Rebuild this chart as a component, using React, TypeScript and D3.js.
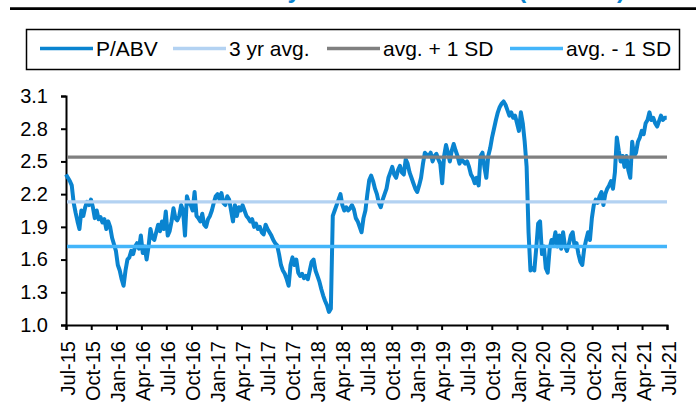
import { useEffect, useRef } from 'react';
import * as d3 from 'd3';

// weekly P/ABV readings, first value on 1 Jul 2015
const seriesStart = '2015-07-01';
const axisStart = '2015-07-01';
const axisEnd = '2021-07-01';

const pabv2015 = [
  2.38, 2.35, 2.32, 2.28, 2.12, 2.03, 1.95, 1.88, 2.05, 2.0, 2.08, 2.13, 2.1,
  2.15, 2.08, 1.98, 2.05, 1.97, 1.99, 1.94, 1.97, 1.88, 1.95, 1.9, 1.8, 1.74,
];
const pabv2016 = [
  1.68, 1.55, 1.5, 1.42, 1.36, 1.5, 1.6, 1.62, 1.68, 1.65, 1.72, 1.75, 1.7,
  1.82, 1.66, 1.72, 1.6, 1.72, 1.88, 1.8, 1.78, 1.85, 1.92, 1.86, 1.95, 1.88,
  2.04, 1.82, 1.86, 1.95, 2.07, 1.98, 1.96, 2.0, 2.1, 2.05, 1.82, 2.18, 2.12,
  2.1, 2.05, 2.22, 2.0, 1.98, 1.95, 2.02, 1.92, 1.9, 1.97, 2.0, 2.05, 2.12,
];
const pabv2017 = [
  2.18, 2.2, 2.15, 2.21, 2.12, 2.1, 2.18, 2.15, 2.05, 1.95, 2.1, 2.0, 2.08,
  2.05, 2.1, 2.05, 2.0, 1.98, 1.95, 1.97, 1.9, 1.93, 1.88, 1.9, 1.85, 1.83,
  1.92, 1.88, 1.85, 1.82, 1.78, 1.75, 1.73, 1.65, 1.55, 1.5, 1.47, 1.42, 1.36,
  1.55, 1.62, 1.55, 1.6, 1.48, 1.45, 1.47, 1.43, 1.45, 1.42, 1.5, 1.58, 1.6,
];
const pabv2018 = [
  1.5, 1.45, 1.4, 1.33, 1.27, 1.22, 1.18, 1.12, 1.15, 2.0, 2.05, 2.1, 2.15,
  2.2, 2.1, 2.05, 2.08, 2.05, 2.07, 2.1, 2.06, 1.98, 1.95, 1.9, 1.85, 1.98,
  2.05, 2.2, 2.33, 2.37, 2.32, 2.25, 2.2, 2.12, 2.08, 2.15, 2.2, 2.25, 2.35,
  2.4, 2.45, 2.38, 2.35, 2.42, 2.46, 2.4, 2.38, 2.52, 2.48, 2.4, 2.35, 2.3,
];
const pabv2019 = [
  2.25, 2.22, 2.28, 2.35, 2.48, 2.58, 2.56, 2.55, 2.58, 2.5, 2.55, 2.57, 2.52,
  2.48, 2.3, 2.55, 2.65, 2.58, 2.5, 2.6, 2.66, 2.6, 2.55, 2.48, 2.52, 2.5,
  2.48, 2.5, 2.45, 2.38, 2.35, 2.3, 2.35, 2.28, 2.55, 2.58, 2.45, 2.35, 2.55,
  2.62, 2.72, 2.8, 2.88, 2.95, 3.0, 3.03, 3.05, 3.02, 2.97, 2.92, 2.95, 2.9,
];
const pabv2020 = [
  2.92, 2.85, 2.78, 2.95, 2.85, 2.68, 2.45, 1.85, 1.5, 1.52, 1.5, 1.7, 1.93,
  1.95, 1.65, 1.72, 1.52, 1.48, 1.7, 1.78, 1.75, 1.85, 1.72, 1.82, 1.7, 1.85,
  1.72, 1.68, 1.74, 1.82, 1.85, 1.72, 1.75, 1.65, 1.58, 1.55, 1.7, 1.78, 1.85,
  1.78, 1.98, 2.1, 2.15, 2.12, 2.18, 2.22, 2.1, 2.2, 2.25, 2.28, 2.32, 2.25,
];
const pabv2021 = [
  2.4, 2.72, 2.6, 2.5, 2.55, 2.45, 2.55, 2.42, 2.35, 2.68, 2.55, 2.58, 2.68,
  2.72, 2.78, 2.75, 2.85, 2.88, 2.95, 2.88, 2.9, 2.85, 2.82, 2.87, 2.92, 2.88,
  2.9, 2.9,
];

const avg3yr = 2.13;
const avgPlus1Sd = 2.54;
const avgMinus1Sd = 1.72;

const yTicks = [1.0, 1.3, 1.6, 1.9, 2.2, 2.5, 2.8, 3.1];
const legendLabels = ['P/ABV', '3 yr avg.', 'avg. + 1 SD', 'avg. - 1 SD'];
const titleText = 'One year forward P/ABV (in times)';

const colors = {
  pabv: '#0a84d0',
  avg: '#b3d2f2',
  plus: '#808080',
  minus: '#43b5fa',
};

const FONT = 'Arial, "Liberation Sans", sans-serif';

export default function App() {
  const ref = useRef<SVGSVGElement | null>(null);

  useEffect(() => {
    if (!ref.current) return;
    const width = 696;
    const height = 411;
    const margin = { top: 96, right: 29, bottom: 86, left: 66 };

    const values = [...pabv2015, ...pabv2016, ...pabv2017, ...pabv2018, ...pabv2019, ...pabv2020, ...pabv2021];
    const t0 = new Date(seriesStart + 'T00:00:00');
    const data = values.map((v, i) => ({ date: d3.timeDay.offset(t0, 7 * i), value: v }));

    const svg = d3.select(ref.current);
    svg.selectAll('*').remove();
    svg.attr('width', width).attr('height', height);

    const x = d3
      .scaleTime()
      .domain([new Date(axisStart + 'T00:00:00'), new Date(axisEnd + 'T00:00:00')])
      .range([margin.left, width - margin.right]);
    const y = d3
      .scaleLinear()
      .domain([1.0, 3.1])
      .range([height - margin.bottom, margin.top]);

    // title (mostly cropped above the frame) and rule
    svg
      .append('text')
      .attr('x', 625)
      .attr('y', -2)
      .attr('text-anchor', 'end')
      .attr('font-family', FONT)
      .attr('font-weight', 'bold')
      .attr('font-size', 24)
      .attr('fill', colors.pabv)
      .text(titleText);
    svg
      .append('line')
      .attr('x1', 10)
      .attr('x2', width)
      .attr('y1', 8.7)
      .attr('y2', 8.7)
      .attr('stroke', '#000')
      .attr('stroke-width', 2.7);

    // legend
    const lg = svg.append('g');
    lg.append('rect')
      .attr('x', 26.5)
      .attr('y', 29.5)
      .attr('width', 653)
      .attr('height', 40)
      .attr('fill', '#fff')
      .attr('stroke', '#000')
      .attr('stroke-width', 1.5);
    const legendColors = [colors.pabv, colors.avg, colors.plus, colors.minus];
    const legendX = [40, 173, 327, 510];
    legendLabels.forEach((label, i) => {
      lg.append('line')
        .attr('x1', legendX[i])
        .attr('x2', legendX[i] + 53)
        .attr('y1', 48.5)
        .attr('y2', 48.5)
        .attr('stroke', legendColors[i])
        .attr('stroke-width', 3.3);
      lg.append('text')
        .attr('x', legendX[i] + 56)
        .attr('y', 56)
        .attr('font-family', FONT)
        .attr('font-size', 21)
        .attr('fill', '#000')
        .text(label);
    });

    // axes
    const yAxis = svg
      .append('g')
      .attr('transform', `translate(${margin.left},0)`)
      .call(
        d3
          .axisLeft(y)
          .tickValues(yTicks)
          .tickFormat(d3.format('.1f'))
          .tickSize(5)
          .tickSizeOuter(5)
          .tickPadding(13)
      );
    yAxis.selectAll('path, line').attr('stroke', '#000').attr('stroke-width', 2);
    yAxis.selectAll('text').attr('font-family', FONT).attr('font-size', 20).attr('fill', '#000');

    const xAxis = svg
      .append('g')
      .attr('transform', `translate(0,${height - margin.bottom})`)
      .call(
        d3
          .axisBottom(x)
          .ticks(d3.timeMonth.every(3))
          .tickFormat(d => d3.timeFormat('%b-%y')(d as Date))
          .tickSize(5)
          .tickSizeOuter(5)
      );
    xAxis.selectAll('path, line').attr('stroke', '#000').attr('stroke-width', 2);
    xAxis
      .selectAll('text')
      .attr('font-family', FONT)
      .attr('font-size', 20)
      .attr('fill', '#000')
      .attr('transform', 'rotate(-90)')
      .attr('text-anchor', 'end')
      .attr('x', -16)
      .attr('y', 0)
      .attr('dy', '0.4em');

    // series
    const line = d3
      .line<{ date: Date; value: number }>()
      .x(d => x(d.date))
      .y(d => y(d.value));
    svg
      .append('path')
      .datum(data)
      .attr('fill', 'none')
      .attr('stroke', colors.pabv)
      .attr('stroke-width', 4)
      .attr('stroke-linejoin', 'round')
      .attr('d', line);

    // reference levels
    [
      { v: avgPlus1Sd, c: colors.plus },
      { v: avg3yr, c: colors.avg },
      { v: avgMinus1Sd, c: colors.minus },
    ].forEach(r => {
      svg
        .append('line')
        .attr('x1', margin.left + 1)
        .attr('x2', width - margin.right)
        .attr('y1', y(r.v))
        .attr('y2', y(r.v))
        .attr('stroke', r.c)
        .attr('stroke-width', 3.3);
    });
  }, []);

  return <svg ref={ref} style={{ position: 'absolute', left: 0, top: 0 }} />;
}
